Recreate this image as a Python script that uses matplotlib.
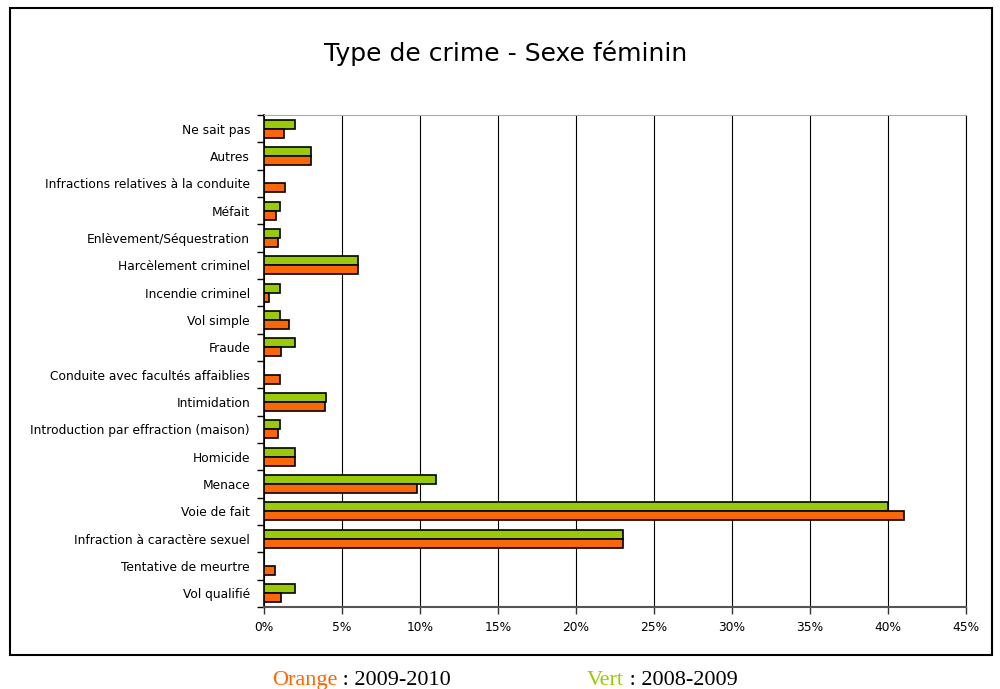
import numpy as np
import matplotlib.pyplot as plt
from matplotlib.patches import Rectangle
from matplotlib.ticker import FuncFormatter, MultipleLocator

# categories listed from bottom to top of the chart
categories = [
    "Vol qualifié",
    "Tentative de meurtre",
    "Infraction à caractère sexuel",
    "Voie de fait",
    "Menace",
    "Homicide",
    "Introduction par effraction (maison)",
    "Intimidation",
    "Conduite avec facultés affaiblies",
    "Fraude",
    "Vol simple",
    "Incendie criminel",
    "Harcèlement criminel",
    "Enlèvement/Séquestration",
    "Méfait",
    "Infractions relatives à la conduite",
    "Autres",
    "Ne sait pas",
]
# percentages, 2008-2009 (green) and 2009-2010 (orange)
vert_2008_2009 = [2.0, 0.0, 23.0, 40.0, 11.0, 2.0, 1.0, 4.0, 0.0, 2.0, 1.0, 1.0, 6.0, 1.0, 1.0, 0.0, 3.0, 2.0]
orange_2009_2010 = [1.1, 0.7, 23.0, 41.0, 9.8, 2.0, 0.9, 3.9, 1.0, 1.1, 1.6, 0.35, 6.0, 0.9, 0.8, 1.35, 3.0, 1.3]

GREEN = "#99CC00"
ORANGE = "#FF6600"

fig = plt.figure(figsize=(10, 6.89), dpi=100)
ax = fig.add_axes([0.264, 0.119, 0.702, 0.714])

y = np.arange(len(categories))
h = 0.33
ax.barh(y + h / 2, vert_2008_2009, height=h, color=GREEN, edgecolor="black", linewidth=1.2, zorder=3)
ax.barh(y - h / 2, orange_2009_2010, height=h, color=ORANGE, edgecolor="black", linewidth=1.2, zorder=3)

ax.set_xlim(0, 45)
ax.set_ylim(-0.5, len(categories) - 0.5)
ax.xaxis.set_major_locator(MultipleLocator(5))
ax.xaxis.set_major_formatter(FuncFormatter(lambda v, p: f"{v:.0f}%"))
ax.grid(axis="x", color="black", linewidth=0.8, zorder=0)

ax.set_yticks(y)
ax.set_yticklabels(categories, fontsize=8.8, family="DejaVu Sans")
ax.set_yticks(np.arange(-0.5, len(categories)), minor=True)
ax.tick_params(axis="y", which="major", length=0, pad=10)
ax.tick_params(axis="y", which="minor", length=5, width=1, color="black", direction="out")
ax.tick_params(axis="x", length=5, width=1, color="#333333", labelsize=8.8, pad=5)
for lbl in ax.get_xticklabels():
    lbl.set_family("DejaVu Sans")

ax.spines["left"].set_linewidth(1.2)
ax.spines["bottom"].set_color("#555555")
ax.spines["bottom"].set_linewidth(1.5)
ax.spines["top"].set_color("#aaaaaa")
ax.spines["right"].set_color("black")
ax.spines["right"].set_linewidth(0.8)

# outer chart frame
fig.patches.append(Rectangle((0.010, 0.049), 0.982, 0.939, transform=fig.transFigure,
                             fill=False, edgecolor="black", linewidth=1.5))

fig.text(0.506, 0.922, "Type de crime - Sexe féminin", ha="center", va="center",
         fontsize=18, family="DejaVu Sans")

# legend line below the frame
t1 = fig.text(0.272, 0.006, "Orange", color=ORANGE, fontsize=16, family="Liberation Serif", va="baseline")
fig.canvas.draw()
ax.annotate(" : 2009-2010", xy=(1, 0), xycoords=t1, va="bottom", ha="left",
            fontsize=16, family="Liberation Serif", annotation_clip=False)
t2 = fig.text(0.587, 0.006, "Vert", color=GREEN, fontsize=16, family="Liberation Serif", va="baseline")
ax.annotate(" : 2008-2009", xy=(1, 0), xycoords=t2, va="bottom", ha="left",
            fontsize=16, family="Liberation Serif", annotation_clip=False)

fig.savefig("out.png", dpi=100)
